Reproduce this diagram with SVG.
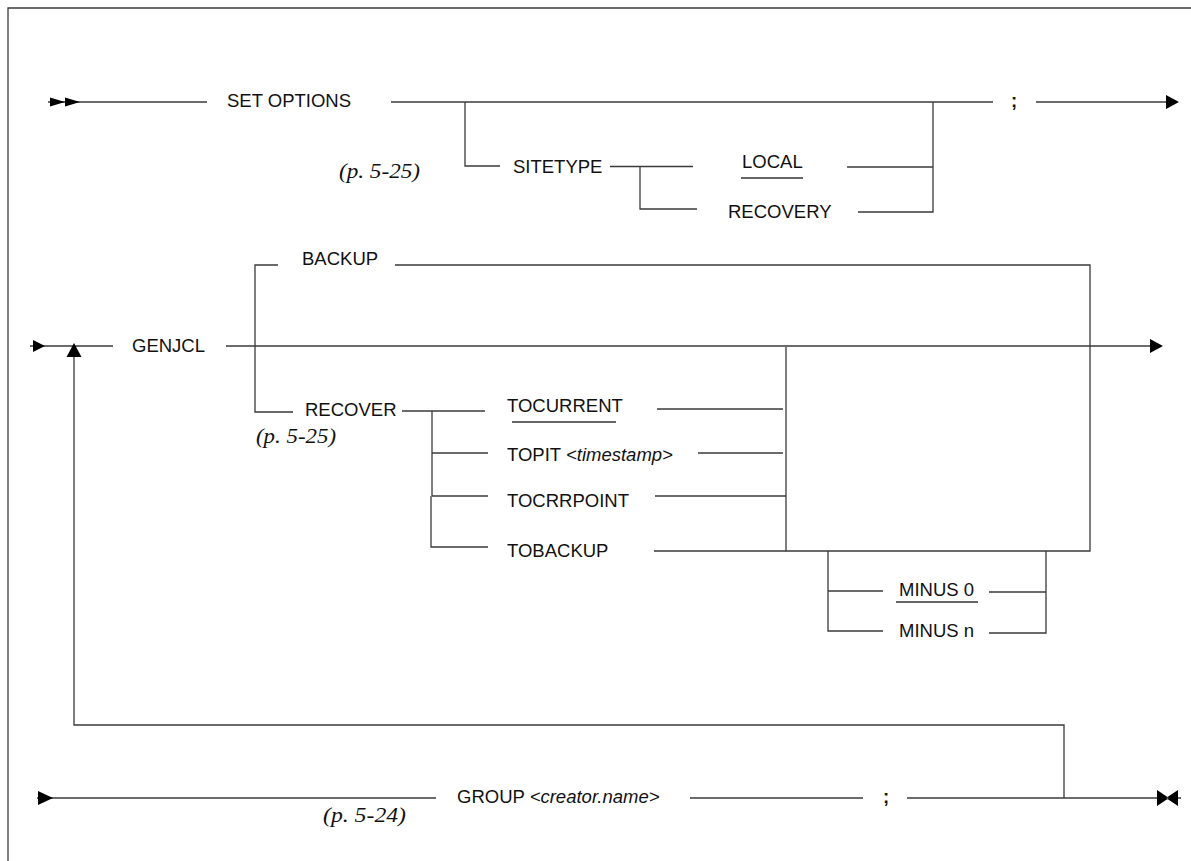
<svg xmlns="http://www.w3.org/2000/svg" width="1191" height="861" viewBox="0 0 1191 861">
<style>
.ln{fill:none;stroke:#3a3a3a;stroke-width:1.3}
.t{font-family:"Liberation Sans",Arial,sans-serif;font-size:18.5px;fill:#111}
.it{font-style:italic}
.ref{font-family:"Liberation Serif","Times New Roman",serif;font-style:italic;font-size:21px;fill:#111}
.ul{stroke:#333;stroke-width:1.3}
.ah{fill:#000}
</style>
<defs>
<path id="tri" d="M0,-7 L13,0 L0,7 Z"/>
<path id="trs" d="M0,-4.5 L15,0 L0,4.5 Z"/>
</defs>
<rect width="1191" height="861" fill="#fff"/>
<path class="ln" d="M8,861 V8 H1191" stroke-width="1.5"/>
<g id="connectors">
  <!-- row 1 -->
  <path class="ln" d="M48,102 H207"/>
  <use href="#trs" class="ah" x="50" y="102"/>
  <use href="#trs" class="ah" x="65" y="102"/>
  <path class="ln" d="M391,102 H993"/>
  <path class="ln" d="M1036,102 H1167"/>
  <use href="#tri" class="ah" x="1166" y="102"/>
  <path class="ln" d="M465,102 V166 H500"/>
  <path class="ln" d="M610,166.5 H693"/>
  <path class="ln" d="M640,166.5 V209 H697"/>
  <path class="ln" d="M847,167 H933"/>
  <path class="ln" d="M858,212 H933 V102"/>
  <!-- row 2 -->
  <path class="ln" d="M30,346 H113"/>
  <path class="ah" d="M33,340 L45,346 L33,352 Z"/>
  <path class="ln" d="M226,346 H1152"/>
  <use href="#tri" class="ah" x="1150" y="346"/>
  <path class="ln" d="M278,265 H255 V412 H293"/>
  <path class="ln" d="M395,265 H1090 V551 H786 V347"/>
  <path class="ln" d="M402,411 H485"/>
  <path class="ln" d="M432,411 V496 M431,496 V547 H488"/>
  <path class="ln" d="M657,409 H783"/>
  <path class="ln" d="M432,453 H488"/>
  <path class="ln" d="M698,453 H783"/>
  <path class="ln" d="M432,496 H488"/>
  <path class="ln" d="M655,496 H786"/>
  <path class="ln" d="M654,551 H786"/>
  <path class="ln" d="M828,551 V631 H883"/>
  <path class="ln" d="M828,591 H883"/>
  <path class="ln" d="M989,592 H1046"/>
  <path class="ln" d="M989,633 H1046 V551"/>
  <!-- repeat loop -->
  <path class="ln" d="M74,357 V725 H1064 V798"/>
  <path class="ah" d="M74,343 L81.5,357 L66.5,357 Z"/>
  <!-- row 3 -->
  <path class="ln" d="M37,798 H436"/>
  <path class="ah" d="M38,791 L53,798 L38,805 Z"/>
  <path class="ln" d="M690,798 H863"/>
  <path class="ln" d="M907,798 H1181"/>
  <path class="ah" d="M1157,790 L1169,798 L1157,806 Z M1178,790 L1166,798 L1178,806 Z"/>
</g>
<g id="n-setoptions"><text class="t" x="227" y="107">SET OPTIONS</text></g>
<g id="n-ref1"><text class="ref" x="339" y="178" textLength="81" lengthAdjust="spacingAndGlyphs">(p. 5-25)</text></g>
<g id="n-sitetype"><text class="t" x="513" y="173">SITETYPE</text></g>
<g id="n-local"><text class="t" x="742" y="168">LOCAL</text><line class="ul" x1="741" y1="178" x2="803" y2="178"/></g>
<g id="n-recovery"><text class="t" x="728" y="218">RECOVERY</text></g>
<g id="n-semi1"><text class="t" x="1011" y="107" font-weight="bold">;</text></g>
<g id="n-backup"><text class="t" x="302" y="265">BACKUP</text></g>
<g id="n-genjcl"><text class="t" x="132" y="352">GENJCL</text></g>
<g id="n-recover"><text class="t" x="305" y="416">RECOVER</text></g>
<g id="n-ref2"><text class="ref" x="256" y="443" textLength="80" lengthAdjust="spacingAndGlyphs">(p. 5-25)</text></g>
<g id="n-tocurrent"><text class="t" x="507" y="412">TOCURRENT</text><line class="ul" x1="512" y1="422" x2="616" y2="422"/></g>
<g id="n-topit"><text class="t" x="507" y="461">TOPIT <tspan class="it">&lt;timestamp&gt;</tspan></text></g>
<g id="n-tocrrpoint"><text class="t" x="507" y="507">TOCRRPOINT</text></g>
<g id="n-tobackup"><text class="t" x="507" y="557">TOBACKUP</text></g>
<g id="n-minus0"><text class="t" x="899" y="596">MINUS 0</text><line class="ul" x1="896" y1="602" x2="978" y2="602"/></g>
<g id="n-minusn"><text class="t" x="899" y="637">MINUS n</text></g>
<g id="n-group"><text class="t" x="457" y="803">GROUP <tspan class="it">&lt;creator.name&gt;</tspan></text></g>
<g id="n-semi2"><text class="t" x="883" y="803" font-weight="bold">;</text></g>
<g id="n-ref3"><text class="ref" x="323" y="822" textLength="83" lengthAdjust="spacingAndGlyphs">(p. 5-24)</text></g>
</svg>
